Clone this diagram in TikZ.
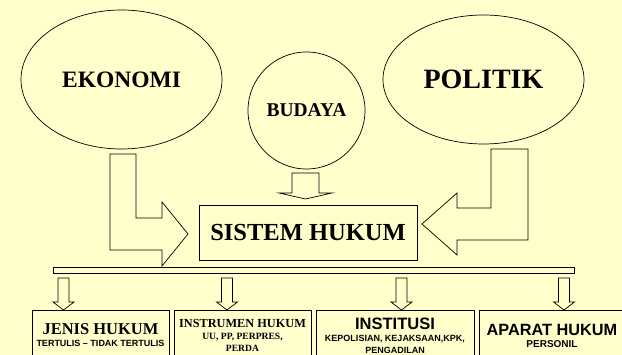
\documentclass[tikz,border=0pt]{standalone}
\usepackage{fontspec}
\setmainfont{Liberation Serif}
\setsansfont{Liberation Sans}
\usetikzlibrary{shapes.geometric}
\definecolor{paper}{HTML}{FFFFCC}

\begin{document}
\begin{tikzpicture}[
  x=1pt, y=-1pt,
  circ/.style={ellipse, draw, line width=0.7pt, inner sep=0pt},
  block/.style={draw, line width=0.7pt, line join=miter},
  box/.style={rectangle, draw, line width=0.9pt, inner sep=0pt, align=center, anchor=north, minimum height=50pt}
]
  \fill[paper] (0,0) rectangle (622,355);
  \clip (0,0) rectangle (622,355);

  \node[circ, minimum width=201pt, minimum height=139pt, font=\bfseries\fontsize{23.5}{26}\selectfont] (ekonomi) at (121.5,79.5) {EKONOMI};
  \node[circ, minimum width=117pt, minimum height=117pt, font=\bfseries\fontsize{19.5}{22}\selectfont] (budaya) at (306.5,110.5) {BUDAYA};
  \node[circ, minimum width=201pt, minimum height=129pt, font=\bfseries\fontsize{28}{30}\selectfont] (politik) at (483.5,79.5) {POLITIK};

  \node[draw, line width=0.9pt, minimum width=218pt, minimum height=55pt, inner sep=0pt, font=\bfseries\fontsize{24.5}{27}\selectfont] (sistem) at (308,232.5) {SISTEM HUKUM};

  % panah masuk
  \draw[block] (110,154) -- (136,154) -- (136,218) -- (162,218) -- (162,202) -- (188,234) -- (162,266) -- (162,250) -- (110,250) -- cycle;
  \draw[block] (292,173) -- (319,173) -- (319,193) -- (332,193) -- (305.5,199) -- (279,193) -- (292,193) -- cycle;
  \draw[block] (491,149) -- (528,149) -- (528,240) -- (457,240) -- (457,255) -- (422,224) -- (457,193) -- (457,208) -- (491,208) -- cycle;

  % batang pembagi
  \draw[block] (53,267) rectangle (574,273);
  \foreach \cx in {63.5,227,401.5,564}
    \draw[block] (\cx-5.5,278) -- (\cx+5.5,278) -- (\cx+5.5,302) -- (\cx+10.5,302) -- (\cx,310) -- (\cx-10.5,302) -- (\cx-5.5,302) -- cycle;

  \node[box, minimum width=137pt] (jenis) at (100.5,310)
    {{\bfseries\fontsize{16.5}{18}\selectfont JENIS HUKUM}\\
     {\sffamily\bfseries\fontsize{9}{11}\selectfont TERTULIS -- TIDAK TERTULIS}};
  \node[box, minimum width=137pt] (instrumen) at (242.5,310)
    {{\bfseries\fontsize{12.3}{13}\selectfont INSTRUMEN HUKUM}\\
     {\bfseries\fontsize{9.6}{11}\selectfont UU, PP, PERPRES,}\\
     {\bfseries\fontsize{9.6}{11}\selectfont PERDA}};
  \node[box, minimum width=158pt] (institusi) at (395,310)
    {{\sffamily\bfseries\fontsize{16.5}{18}\selectfont INSTITUSI}\\
     {\sffamily\bfseries\fontsize{9}{10}\selectfont KEPOLISIAN, KEJAKSAAN,KPK,}\\
     {\sffamily\bfseries\fontsize{9}{10}\selectfont PENGADILAN}};
  \node[box, minimum width=146pt] (aparat) at (552,310)
    {{\sffamily\bfseries\fontsize{16.3}{18}\selectfont APARAT HUKUM}\\
     {\sffamily\bfseries\fontsize{10}{11}\selectfont PERSONIL}};
\end{tikzpicture}
\end{document}
